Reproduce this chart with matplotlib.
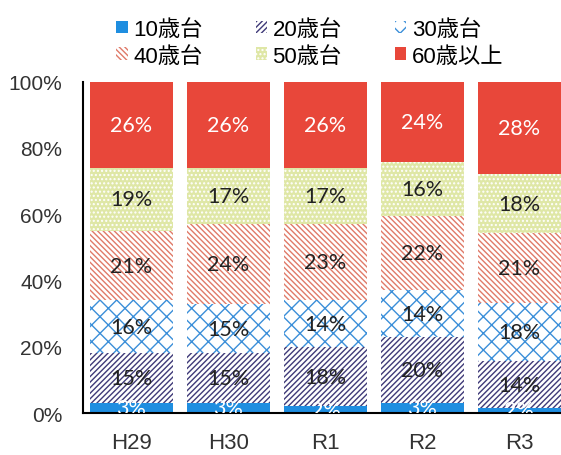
"""Age-group share per fiscal year, stacked 100% bars."""

import matplotlib
matplotlib.use("Agg")
import matplotlib.pyplot as plt
import numpy as np

plt.rcParams["font.family"] = ["Liberation Sans", "Noto Sans CJK JP", "DejaVu Sans"]

YEARS = ["H29", "H30", "R1", "R2", "R3"]
GROUPS = ["10歳台", "20歳台", "30歳台", "40歳台", "50歳台", "60歳以上"]

# share (%) per age group, one value per year
age10 = [3.0, 3.0, 2.0, 3.0, 1.6]
age20 = [15.0, 15.0, 18.0, 20.0, 14.0]
age30 = [16.0, 15.0, 14.0, 14.0, 17.6]
age40 = [21.0, 24.0, 23.0, 22.3, 21.0]
age50 = [19.0, 17.0, 17.0, 16.3, 18.0]
age60 = [26.0, 26.0, 26.0, 24.4, 27.8]

STYLES = [
    dict(facecolor="#1f8ee0", edgecolor="#1f8ee0", hatch=None),
    dict(facecolor="white", edgecolor="#3f3a78", hatch="//////"),
    dict(facecolor="white", edgecolor="#3b8fd9", hatch="xx"),
    dict(facecolor="white", edgecolor="#e07a68", hatch="\\\\\\\\\\\\"),
    dict(facecolor="#dfe7a6", edgecolor="white", hatch="...."),
    dict(facecolor="#e8473a", edgecolor="#e8473a", hatch=None),
]
LABEL_COLORS = ["white", "#222222", "#222222", "#222222", "#222222", "white"]


def main():
    series = [age10, age20, age30, age40, age50, age60]
    fig = plt.figure(figsize=(5.61, 4.56), dpi=100)
    ax = fig.add_axes([0.148, 0.092, 0.852, 0.727])
    plt.rcParams["hatch.linewidth"] = 1.0

    x = np.arange(len(YEARS))
    bottom = np.zeros(len(YEARS))
    handles = []
    for vals, name, style, tc in zip(series, GROUPS, STYLES, LABEL_COLORS):
        vals = np.array(vals)
        bars = ax.bar(x, vals, 0.85, bottom=bottom, label=name, linewidth=0, **style)
        handles.append(bars)
        for xi, b, v in zip(x, bottom, vals):
            ax.text(xi, b + v / 2, f"{v:.0f}%", ha="center", va="center",
                    fontsize=15.5, color=tc, family=["Lato", "DejaVu Sans"], clip_on=True)
        bottom += vals

    ax.set_xlim(-0.5, 4.43)
    ax.set_ylim(0, 100)
    ax.set_yticks(range(0, 101, 20))
    ax.set_yticklabels([f"{v}%" for v in range(0, 101, 20)], fontsize=15, color="#333333")
    ax.set_xticks(x, YEARS, fontsize=16, color="#333333")
    ax.tick_params(axis="both", length=0)
    ax.tick_params(axis="x", pad=14)
    ax.tick_params(axis="y", pad=15)
    for side in ("top", "right"):
        ax.spines[side].set_visible(False)
    ax.spines["left"].set_linewidth(1.5)
    ax.spines["bottom"].set_linewidth(1.5)

    order = [0, 3, 1, 4, 2, 5]
    fig.legend([handles[i] for i in order], [GROUPS[i] for i in order],
               ncol=3, loc="upper left", bbox_to_anchor=(0.172, 1.0), frameon=False,
               prop={"family": ["Liberation Sans", "Noto Sans CJK JP"], "size": 16},
               handlelength=0.5, handleheight=0.5, handletextpad=0.25,
               columnspacing=2.4, labelspacing=0.25, borderpad=0.4)

    fig.savefig("out.png", dpi=100)
    plt.close(fig)


if __name__ == "__main__":
    main()
